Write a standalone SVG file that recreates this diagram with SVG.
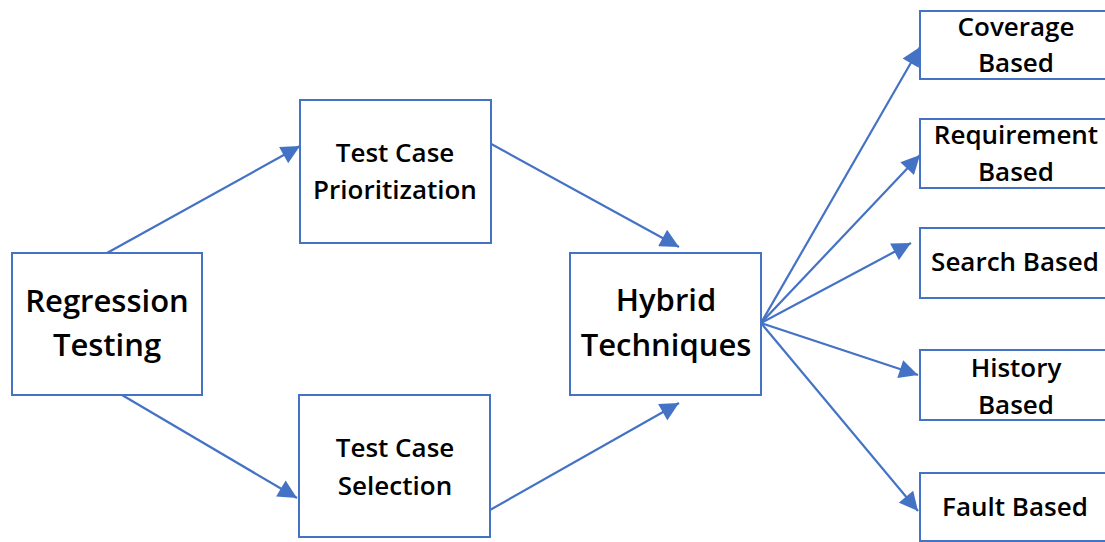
<svg xmlns="http://www.w3.org/2000/svg" width="1105" height="542" viewBox="0 0 1105 542">
<style>
.box{fill:#fff;stroke:#4472C4;stroke-width:2}
.t{font-family:"Open Sans","Liberation Sans",sans-serif;font-weight:600;fill:#000;text-anchor:middle}
.L{font-size:31px}
.S{font-size:26px}
.c{stroke:#4472C4;stroke-width:2.2;fill:none;marker-end:url(#ah)}
</style>
<defs>
<marker id="ah" viewBox="0 0 10 10" refX="10" refY="5" markerWidth="9" markerHeight="8.5" markerUnits="strokeWidth" orient="auto">
<path d="M0,0 L10,5 L0,10 z" fill="#4472C4"/>
</marker>
</defs>
<rect width="1105" height="542" fill="#fff"/>
<g id="connectors">
<line class="c" x1="107" y1="253" x2="300" y2="146"/>
<line class="c" x1="122" y1="395" x2="297" y2="498"/>
<line class="c" x1="484" y1="140" x2="679" y2="247"/>
<line class="c" x1="490" y1="510" x2="679" y2="403"/>
<line class="c" x1="761" y1="323" x2="920" y2="47"/>
<line class="c" x1="761" y1="323" x2="920" y2="155"/>
<line class="c" x1="761" y1="323" x2="911" y2="243"/>
<line class="c" x1="761" y1="323" x2="918" y2="375"/>
<line class="c" x1="761" y1="323" x2="918" y2="511"/>
</g>
<g id="regression">
<rect class="box" x="12" y="253" width="190" height="142"/>
<text class="t L" x="107" y="312">Regression</text>
<text class="t L" x="107" y="356">Testing</text>
</g>
<g id="prioritization">
<rect class="box" x="300" y="100" width="191" height="143"/>
<text class="t S" x="395" y="162">Test Case</text>
<text class="t S" x="395" y="199">Prioritization</text>
</g>
<g id="selection">
<rect class="box" x="299" y="395" width="191" height="142"/>
<text class="t S" x="395" y="457">Test Case</text>
<text class="t S" x="395" y="495">Selection</text>
</g>
<g id="hybrid">
<rect class="box" x="570" y="253" width="191" height="142"/>
<text class="t L" x="666" y="311">Hybrid</text>
<text class="t L" x="666" y="356">Techniques</text>
</g>
<g id="coverage">
<rect class="box" x="920" y="11" width="190" height="68"/>
<text class="t S" x="1016" y="36">Coverage</text>
<text class="t S" x="1016" y="72">Based</text>
</g>
<g id="requirement">
<rect class="box" x="920" y="119" width="190" height="69"/>
<text class="t S" x="1016" y="144">Requirement</text>
<text class="t S" x="1016" y="181">Based</text>
</g>
<g id="search">
<rect class="box" x="920" y="228" width="190" height="70"/>
<text class="t S" x="1015" y="271">Search Based</text>
</g>
<g id="history">
<rect class="box" x="920" y="350" width="190" height="70"/>
<text class="t S" x="1016" y="377">History</text>
<text class="t S" x="1016" y="414">Based</text>
</g>
<g id="fault">
<rect class="box" x="920" y="473" width="190" height="68"/>
<text class="t S" x="1015" y="516">Fault Based</text>
</g>
</svg>
